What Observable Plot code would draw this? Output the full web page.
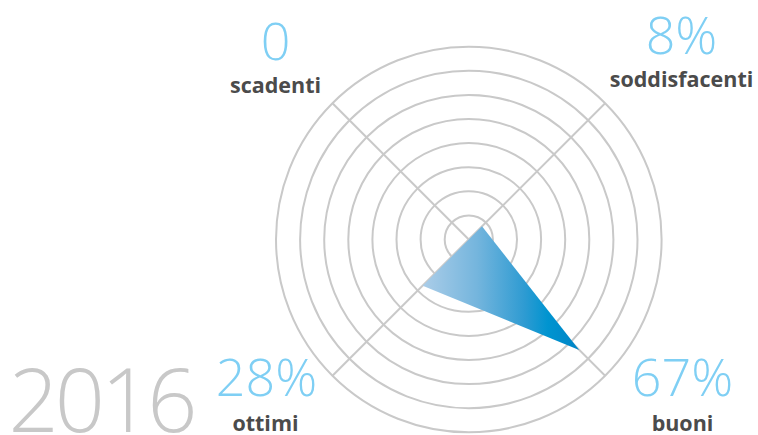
<!DOCTYPE html>
<html><head><meta charset="utf-8">
<script src="https://cdn.jsdelivr.net/npm/d3@7"></script>
<script src="https://cdn.jsdelivr.net/npm/@observablehq/plot@0.6"></script>
<style>html,body{margin:0;padding:0;background:#fff}</style>
</head><body><div id="chart"></div>
<script>
// ---- data ----
const categories = ["scadenti", "soddisfacenti", "buoni", "ottimi"];
const values = [0, 8, 67, 28];               // percent
const valueLabels = ["0", "8%", "67%", "28%"];
const angles = [135, 45, -45, -135];         // direction of each axis (degrees)
const ringLevels = [1, 2, 3, 4, 5, 6, 7, 8];
const yearLabel = "2016";

// ---- layout ----
const W = 758, H = 435, cx = 468.3, cy = 239;
const pxPerPct = 2.33, ringStep = 24.1, spokeLen = 8 * 24.1;
const labelPos = {
  scadenti:      {vx: 275, vy: 59,  nx: 275, ny: 92},
  soddisfacenti: {vx: 681, vy: 53,  nx: 681, ny: 86},
  buoni:         {vx: 682, vy: 395, nx: 682, ny: 430},
  ottimi:        {vx: 266, vy: 395, nx: 265, ny: 430}
};
const rad = d => d * Math.PI / 180;

const polygon = categories.map((c, i) => ({
  cat: c,
  x: values[i] * pxPerPct * Math.cos(rad(angles[i])),
  y: values[i] * pxPerPct * Math.sin(rad(angles[i]))
}));
const spokes = angles.map(a => ({a}));

const marks = [
  Plot.dot(ringLevels, {x: () => 0, y: () => 0, r: d => d * ringStep,
    fill: "none", stroke: "#c9c9c9", strokeWidth: 2}),
  Plot.link(spokes, {x1: () => 0, y1: () => 0,
    x2: d => spokeLen * Math.cos(rad(d.a)), y2: d => spokeLen * Math.sin(rad(d.a)),
    stroke: "#c9c9c9", strokeWidth: 2}),
  Plot.line(polygon, {x: "x", y: "y", curve: "linear-closed",
    fill: "url(#polyGrad)", stroke: "none"})
];

categories.forEach((c, i) => {
  const p = labelPos[c];
  marks.push(Plot.text([valueLabels[i]], {frameAnchor: "top-left", dx: p.vx, dy: p.vy,
    text: d => d, textAnchor: "middle", lineAnchor: "bottom",
    fontSize: 52, fontWeight: 300, fill: "#7fcff4", fontFamily: "'Open Sans', sans-serif"}));
  marks.push(Plot.text([c], {frameAnchor: "top-left", dx: p.nx, dy: p.ny,
    text: d => d, textAnchor: "middle", lineAnchor: "bottom",
    fontSize: 21.5, fontWeight: 700, fill: "#4b4b4b", fontFamily: "'Open Sans', sans-serif"}));
});
marks.push(Plot.text([yearLabel], {frameAnchor: "top-left", dx: 8, dy: 431,
  text: d => d, textAnchor: "start", lineAnchor: "bottom",
  fontSize: 88, fontWeight: 300, fill: "#c8c8c8", fontFamily: "'Open Sans', sans-serif"}));

const chart = Plot.plot({
  width: W, height: H,
  margin: 0,
  style: {background: "#fff", overflow: "visible"},
  x: {type: "linear", domain: [-cx, W - cx], range: [0, W], axis: null},
  y: {type: "linear", domain: [cy - H, cy], range: [H, 0], axis: null},
  r: {type: "identity"},
  marks
});

// tighten the year label like the reference's narrow digits
chart.querySelectorAll("text").forEach(t => {
  if (t.textContent === yearLabel) t.setAttribute("letter-spacing", "-4");
});

const ns = "http://www.w3.org/2000/svg";
const defs = document.createElementNS(ns, "defs");
const grad = document.createElementNS(ns, "linearGradient");
grad.setAttribute("id", "polyGrad");
grad.setAttribute("x1", "0"); grad.setAttribute("y1", "0");
grad.setAttribute("x2", "1"); grad.setAttribute("y2", "0");
[["0", "#abcde8"], ["0.35", "#74b5dd"], ["0.65", "#2e9bd2"], ["0.8", "#0094d0"], ["1", "#0084c6"]]
  .forEach(([o, c]) => {
    const s = document.createElementNS(ns, "stop");
    s.setAttribute("offset", o); s.setAttribute("stop-color", c);
    grad.appendChild(s);
  });
defs.appendChild(grad);
chart.insertBefore(defs, chart.firstChild);
document.getElementById("chart").appendChild(chart);
</script>
</body></html>
